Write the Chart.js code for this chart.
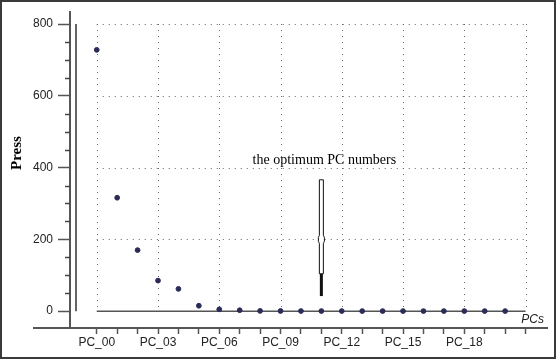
<!DOCTYPE html>
<html>
<head>
<meta charset="utf-8">
<script src="https://cdn.jsdelivr.net/npm/chart.js@4"></script>
<style>
  body { margin: 0; background: #fff; }
  #wrap { width: 556px; height: 359px; }
</style>
</head>
<body>
<div id="wrap"><canvas id="pressChart" width="556" height="359"></canvas></div>
<script>
/* === DATA === */
const pcLabels = ["PC_00","PC_01","PC_02","PC_03","PC_04","PC_05","PC_06","PC_07","PC_08","PC_09","PC_10",
                  "PC_11","PC_12","PC_13","PC_14","PC_15","PC_16","PC_17","PC_18","PC_19","PC_20"];
const pressValues = [728, 316, 170, 85, 62, 15, 5, 2.5, 0.6, 0.4, 0.3, 0.2, 0.2, 0.1, 0.1, 0.1, 0.1, 0.1, 0.1, 0.1, 0.1];
const yTicks = [0, 200, 400, 600, 800];
const yMinorTicks = [50, 100, 150, 250, 300, 350, 450, 500, 550, 650, 700, 750];
const xMajorTicks = [0, 3, 6, 9, 12, 15, 18, 21];
const xLastIndex = 21;

// marker "the optimum PC numbers"
const optimumIndex = 11;
const optimumText = "the optimum PC numbers";
const optimumTextValue = 420;
const markerTop = 366;
const markerMid = 200;
const markerSolid = 104;
const markerBottom = 42;

const points = pressValues.map((v, i) => ({ x: i, y: v }));

/* === DECORATION PLUGIN === */
const decoPlugin = {
  id: "deco",
  beforeDatasetsDraw(chart) {
    const { ctx, chartArea, scales: { x, y } } = chart;
    const x0 = x.getPixelForValue(0);
    const xEnd = x.getPixelForValue(xLastIndex);
    const y0 = y.getPixelForValue(0);
    const yTop = y.getPixelForValue(800);
    ctx.save();

    // dotted grid
    ctx.strokeStyle = "#666";
    ctx.lineWidth = 1;
    ctx.setLineDash([1, 5]);
    xMajorTicks.forEach(t => {
      const px = Math.round(x.getPixelForValue(t)) + 0.5;
      ctx.beginPath(); ctx.moveTo(px, yTop); ctx.lineTo(px, y0); ctx.stroke();
    });
    yTicks.filter(t => t > 0).forEach(t => {
      const py = Math.round(y.getPixelForValue(t)) + 0.5;
      ctx.beginPath(); ctx.moveTo(x0, py); ctx.lineTo(xEnd, py); ctx.stroke();
    });
    ctx.setLineDash([]);

    // zero line
    ctx.strokeStyle = "#555";
    ctx.lineWidth = 1.5;
    ctx.beginPath(); ctx.moveTo(x0, y0); ctx.lineTo(xEnd, y0); ctx.stroke();

    // inner vertical line
    ctx.strokeStyle = "#666";
    ctx.lineWidth = 2;
    ctx.beginPath(); ctx.moveTo(chartArea.left + 6, yTop); ctx.lineTo(chartArea.left + 6, y0); ctx.stroke();

    // x axis extension to the left
    ctx.strokeStyle = "#555";
    ctx.beginPath(); ctx.moveTo(chartArea.left - 37, chartArea.bottom); ctx.lineTo(chartArea.left, chartArea.bottom); ctx.stroke();

    // y minor ticks
    ctx.strokeStyle = "#444";
    ctx.lineWidth = 1.5;
    yMinorTicks.forEach(t => {
      const py = Math.round(y.getPixelForValue(t)) + 0.5;
      ctx.beginPath(); ctx.moveTo(chartArea.left - 5, py); ctx.lineTo(chartArea.left, py); ctx.stroke();
    });

    // optimum marker
    const mx = x.getPixelForValue(optimumIndex);
    const pTop = y.getPixelForValue(markerTop);
    const pMid = y.getPixelForValue(markerMid);
    const pSolid = y.getPixelForValue(markerSolid);
    const pBot = y.getPixelForValue(markerBottom);
    ctx.fillStyle = "#fff";
    ctx.strokeStyle = "#111";
    ctx.lineWidth = 1;
    ctx.beginPath();
    ctx.moveTo(mx - 2, pTop);
    ctx.lineTo(mx + 2, pTop);
    ctx.lineTo(mx + 2, pMid - 4);
    ctx.lineTo(mx + 3, pMid - 2);
    ctx.lineTo(mx + 3, pMid + 2);
    ctx.lineTo(mx + 2, pMid + 4);
    ctx.lineTo(mx + 2, pSolid);
    ctx.lineTo(mx - 2, pSolid);
    ctx.lineTo(mx - 2, pMid + 4);
    ctx.lineTo(mx - 3, pMid + 2);
    ctx.lineTo(mx - 3, pMid - 2);
    ctx.lineTo(mx - 2, pMid - 4);
    ctx.closePath();
    ctx.fill();
    ctx.stroke();
    ctx.fillStyle = "#111";
    ctx.fillRect(mx - 1.5, pSolid, 3, pBot - pSolid);

    // texts
    ctx.fillStyle = "#000";
    ctx.font = "14px 'Liberation Serif', 'Times New Roman', serif";
    ctx.textAlign = "center";
    ctx.textBaseline = "middle";
    ctx.fillText(optimumText, mx + 3, y.getPixelForValue(optimumTextValue));

    ctx.font = "italic 12px 'Liberation Sans', Arial, sans-serif";
    ctx.textAlign = "right";
    ctx.fillStyle = "#222";
    ctx.fillText("PCs", chartArea.right - 3, chartArea.bottom - 8);

    ctx.save();
    ctx.translate(17, 153);
    ctx.rotate(-Math.PI / 2);
    ctx.textAlign = "center";
    ctx.font = "bold 15px 'Liberation Serif', 'Times New Roman', serif";
    ctx.fillStyle = "#000";
    ctx.fillText("Press", 0, 0);
    ctx.restore();

    ctx.restore();
  },
  afterDraw(chart) {
    const { ctx } = chart;
    ctx.save();
    ctx.strokeStyle = "#3a3a3a";
    ctx.lineWidth = 2;
    ctx.strokeRect(1, 1, chart.width - 2, chart.height - 2);
    ctx.restore();
  }
};

/* === CHART === */
new Chart(document.getElementById("pressChart").getContext("2d"), {
  type: "scatter",
  data: {
    datasets: [{
      data: points,
      backgroundColor: "#2b2b58",
      borderColor: "#2b2b58",
      pointRadius: 2.4,
      pointHoverRadius: 2.4
    }]
  },
  options: {
    responsive: false,
    animation: false,
    events: [],
    layout: { padding: { left: 0, top: 8, right: 9, bottom: 4 } },
    plugins: { legend: { display: false }, tooltip: { enabled: false } },
    scales: {
      x: {
        type: "linear",
        min: -1.31,
        max: 22.05,
        afterBuildTicks: s => { s.ticks = pcLabels.map((_, i) => ({ value: i })).concat([{ value: xLastIndex }]); },
        afterFit: s => { s.height = 27; },
        ticks: {
          autoSkip: false,
          maxRotation: 0,
          padding: 1,
          color: "#222",
          font: { family: "'Liberation Sans', Arial, sans-serif", size: 12 },
          callback: v => (v % 3 === 0 && v < xLastIndex) ? pcLabels[v] : ""
        },
        grid: { drawOnChartArea: false, drawTicks: true, tickLength: 6, tickColor: "#555", tickWidth: 1.5 },
        border: { display: true, color: "#555", width: 2 }
      },
      y: {
        min: -47,
        max: 833,
        afterBuildTicks: s => { s.ticks = yTicks.map(v => ({ value: v })); },
        afterFit: s => { s.width = 70; },
        ticks: {
          padding: 5,
          color: "#222",
          font: { family: "'Liberation Sans', Arial, sans-serif", size: 12 }
        },
        grid: { drawOnChartArea: false, drawTicks: true, tickLength: 12, tickColor: "#555", tickWidth: 1.5 },
        border: { display: true, color: "#555", width: 2 }
      }
    }
  },
  plugins: [decoPlugin]
});
</script>
</body>
</html>
